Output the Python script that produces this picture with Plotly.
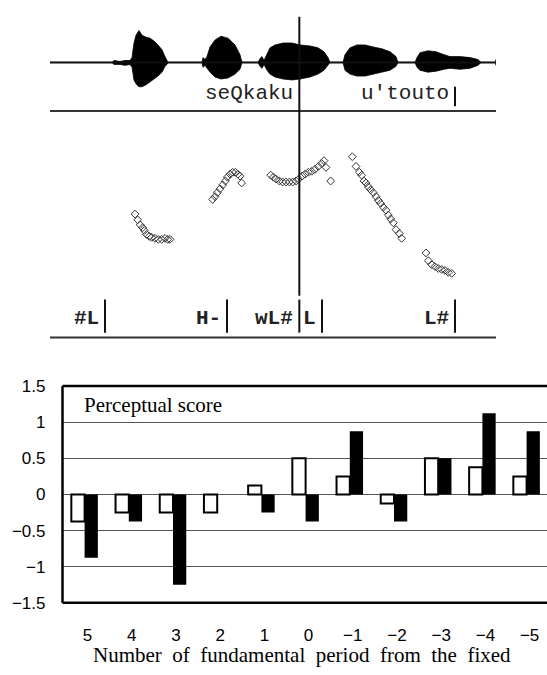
import plotly.graph_objects as go

W, H = 547, 675

# ---------------- bar chart data ----------------
categories = ["5", "4", "3", "2", "1", "0", "\u22121", "\u22122", "\u22123", "\u22124", "\u22125"]
white_scores = [-0.375, -0.25, -0.25, -0.25, 0.125, 0.5, 0.25, -0.125, 0.5, 0.375, 0.25]
black_scores = [-0.875, -0.375, -1.25, 0.0, -0.25, -0.375, 0.875, -0.375, 0.5, 1.125, 0.875]
y_tickvals = [1.5, 1, 0.5, 0, -0.5, -1, -1.5]
y_ticktext = ["1.5", "1", "0.5", "0", "\u22120.5", "\u22121", "\u22121.5"]
score_label = "Perceptual score"
x_title_words = ["Number", "of", "fundamental", "period", "from", "the", "fixed"]

# ---------------- waveform envelope (time in ms, amplitude in arbitrary units) ----------------
env_t = [0, 186, 192, 210, 225, 240,
         246, 252, 258, 267, 276, 288, 300, 312, 324, 336, 345, 351, 354,
         456, 459, 465, 471, 480, 495, 513, 534, 555, 570, 576,
         624, 630, 636, 642, 651, 660, 675, 699, 726, 750, 780, 804, 822, 834, 840,
         879, 885, 900, 921, 945, 969, 996, 1020, 1038, 1044,
         1095, 1101, 1110, 1134, 1158, 1182, 1200, 1230, 1260, 1284, 1293, 1338]
env_up = [0, 0, 2, 1, 2, 2,
          5, 20, 28, 33, 28, 26, 25, 22, 18, 13, 6, 2, 0,
          0, 5, 3, 6, 16, 23, 27, 25, 18, 8, 0,
          0, 4, 6, 2, 8, 15, 18, 20, 20, 18, 17, 15, 11, 5, 0,
          0, 8, 15, 18, 18, 16, 14, 11, 6, 0,
          0, 5, 10, 12, 11, 8, 6, 6, 5, 3, 0, 0]
env_dn = [0, 0, 2, 2, 3, 2,
          5, 18, 22, 25, 25, 23, 20, 17, 14, 10, 4, 2, 0,
          0, 5, 3, 6, 10, 15, 17, 16, 12, 7, 0,
          0, 4, 6, 2, 8, 12, 15, 17, 18, 17, 15, 12, 8, 3, 0,
          0, 8, 12, 14, 14, 12, 10, 8, 4, 0,
          0, 5, 8, 10, 9, 7, 6, 7, 6, 3, 0, 0]
total_ms = 1338
cursor_ms = 748
word_labels = ["seQkaku", "u'touto"]
word_ends = [748, 1215]

# ---------------- F0 contour (time in ms, F0 in Hz) ----------------
f0_segments = [
    ([255, 263, 270, 278, 283, 290, 298, 305, 315, 325, 335, 345, 353, 360],
     [189, 183, 178, 175, 172, 168, 166, 165, 164, 163, 163, 164, 163, 163]),
    ([488, 495, 502, 510, 518, 526, 532, 540, 548, 556, 564, 570, 575],
     [204, 207, 211, 215, 219, 223, 227, 230, 232, 232, 230, 228, 221]),
    ([662, 670, 678, 688, 698, 708, 718, 728, 738, 746, 756, 765, 775, 785, 795, 805, 815, 822, 828, 842],
     [229, 227, 225, 223, 222, 222, 222, 222, 223, 225, 228, 230, 232, 233, 235, 238, 241, 244, 237, 223]),
    ([907, 918, 928, 935, 942, 948, 955, 962, 970, 978, 985, 992, 1000, 1008, 1015, 1022, 1030, 1038, 1048, 1055],
     [248, 238, 232, 229, 223, 221, 217, 214, 211, 207, 203, 200, 196, 193, 188, 184, 180, 173, 169, 164]),
    ([1128, 1135, 1145, 1155, 1165, 1175, 1185, 1195, 1205],
     [149, 141, 137, 135, 133, 132, 131, 129, 128]),
]
f0_range = [63, 290]
tone_labels = ["#L", "H-", "wL#", "L", "L#"]
tone_ends = [165, 531, 748, 816, 1215]


def px_x(p):
    return p / W


def px_y(p):
    return 1 - p / H


fig = go.Figure()

# waveform polygon
poly_x = env_t + env_t[::-1]
poly_y = env_up + [-v for v in env_dn[::-1]]
fig.add_trace(go.Scatter(x=poly_x, y=poly_y, mode="lines", fill="toself",
                         fillcolor="black", line=dict(color="black", width=0.8),
                         xaxis="x2", yaxis="y2", hoverinfo="skip", showlegend=False))

# F0 points
fx, fy = [], []
for t, f in f0_segments:
    fx += t + [None]
    fy += f + [None]
fig.add_trace(go.Scatter(x=fx, y=fy, mode="markers",
                         marker=dict(symbol="diamond-open", size=6, color="#333",
                                     line=dict(width=1, color="#333")),
                         xaxis="x3", yaxis="y3", hoverinfo="skip", showlegend=False))

# bars
xpos = list(range(len(categories)))
fig.add_trace(go.Bar(x=xpos, y=white_scores, marker=dict(color="white", line=dict(color="black", width=2)),
                     showlegend=False))
fig.add_trace(go.Bar(x=xpos, y=black_scores, marker=dict(color="black", line=dict(color="black", width=0)),
                     showlegend=False))

xdom = [px_x(62.5), 1.0]
ydom = [px_y(611), px_y(388)]
xr = [-0.5, -0.5 + (W - 62.5) / 44.2]
tdom = [px_x(50), px_x(496)]

fig.update_layout(
    width=W, height=H, margin=dict(l=0, r=0, t=0, b=0),
    paper_bgcolor="white", plot_bgcolor="white",
    barmode="group", bargap=0.4, bargroupgap=0,
    xaxis=dict(domain=xdom, range=xr, tickvals=xpos, ticktext=categories,
               showgrid=False, zeroline=False, showline=False, ticks="",
               tickfont=dict(family="Liberation Sans", size=17, color="black"),
               ticklabelstandoff=20, ticklabelshift=3),
    yaxis=dict(domain=ydom, range=[-1.5, 1.5], tickvals=y_tickvals, ticktext=y_ticktext,
               showgrid=True, gridcolor="#555", gridwidth=1, zeroline=False, showline=False,
               ticks="", tickfont=dict(family="Liberation Sans", size=17, color="black"),
               ticklabelstandoff=16),
    xaxis4=dict(overlaying="x", anchor="free", position=(ydom[0] + ydom[1]) / 2,
                range=xr, tickvals=[i + 0.5 for i in xpos], ticks="inside", ticklen=7,
                tickcolor="black", tickwidth=1, showticklabels=False, showline=False,
                showgrid=False, zeroline=False),
    xaxis2=dict(domain=tdom, range=[0, total_ms], visible=False, anchor="y2"),
    yaxis2=dict(domain=[px_y(105), px_y(5)], range=[-50, 50], visible=False, anchor="x2"),
    xaxis3=dict(domain=tdom, range=[0, total_ms], visible=False, anchor="y3"),
    yaxis3=dict(domain=[px_y(337), px_y(110)], range=f0_range, visible=False, anchor="x3"),
)

shapes = []
# bar chart frame (left, top, bottom)
shapes.append(dict(type="line", xref="paper", yref="paper", x0=xdom[0], x1=xdom[0], y0=ydom[0], y1=ydom[1],
                   line=dict(color="black", width=2.5)))
for yy in ydom:
    shapes.append(dict(type="line", xref="paper", yref="paper", x0=xdom[0], x1=1, y0=yy, y1=yy,
                       line=dict(color="black", width=2.5)))
# waveform baseline and end tick
shapes.append(dict(type="line", xref="x2", yref="y2", x0=0, x1=total_ms, y0=0, y1=0,
                   line=dict(color="#111", width=2)))
shapes.append(dict(type="line", xref="x2", yref="y2", x0=total_ms, x1=total_ms, y0=-3, y1=3,
                   line=dict(color="#111", width=1.5)))
# panel separator lines
for py in (105, 338):
    shapes.append(dict(type="line", xref="x2", yref="paper", x0=0, x1=total_ms, y0=px_y(py), y1=px_y(py),
                       line=dict(color="#333", width=2)))
# cursor line
shapes.append(dict(type="line", xref="x2", yref="paper", x0=cursor_ms, x1=cursor_ms,
                   y0=px_y(295), y1=px_y(8), line=dict(color="#111", width=2)))
# word boundary bar
shapes.append(dict(type="line", xref="x2", yref="paper", x0=word_ends[1], x1=word_ends[1],
                   y0=px_y(100), y1=px_y(80), line=dict(color="#111", width=2)))
# tone boundary bars
for t in tone_ends:
    shapes.append(dict(type="line", xref="x3", yref="paper", x0=t, x1=t,
                       y0=px_y(333), y1=px_y(299), line=dict(color="#111", width=2)))
fig.update_layout(shapes=shapes)

ann = []
ann.append(dict(text=score_label, xref="paper", yref="paper", x=px_x(82), y=px_y(407),
                xanchor="left", yanchor="middle", showarrow=False,
                font=dict(family="Liberation Serif", size=21, color="black")))
ann.append(dict(text="\u00a0 ".join(x_title_words), xref="paper", yref="paper", x=px_x(301.5), y=px_y(665),
                xanchor="center", yanchor="middle", showarrow=False,
                font=dict(family="Liberation Serif", size=21, color="black")))
for lab, t in zip(word_labels, word_ends):
    ann.append(dict(text=lab, xref="x2", yref="paper", x=t, y=px_y(87), xshift=-4,
                    xanchor="right", yanchor="middle", showarrow=False,
                    font=dict(family="Liberation Mono", size=21, color="#222")))
for lab, t in zip(tone_labels, tone_ends):
    ann.append(dict(text=lab, xref="x3", yref="paper", x=t, y=px_y(318), xshift=-4,
                    xanchor="right", yanchor="middle", showarrow=False,
                    font=dict(family="Liberation Mono", size=21, color="#222", weight="bold")))
fig.update_layout(annotations=ann)

fig.write_html("out.html")
